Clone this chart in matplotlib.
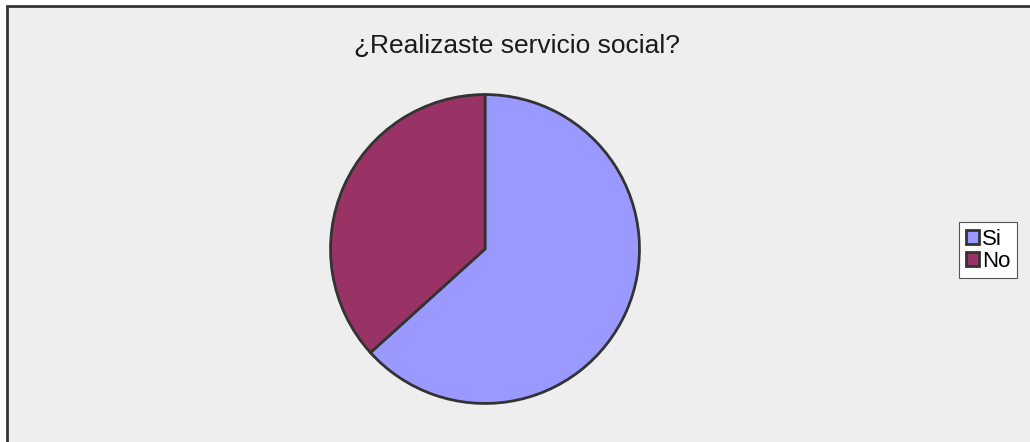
import matplotlib.pyplot as plt
from matplotlib.patches import Rectangle

labels = ["Si", "No"]
values = [63.3, 36.7]
colors = ["#9999FF", "#993366"]

W, H = 1030, 442
plt.rcParams['font.family'] = ['Liberation Sans', 'DejaVu Sans']

fig = plt.figure(figsize=(W / 100, H / 100), dpi=100, facecolor="white")

# chart area background with border on the left/top
bg = Rectangle((7 / W, -0.05), 1.2, 1 - 6 / H + 0.05, transform=fig.transFigure,
               facecolor="#EEEEEE", edgecolor="#333333", linewidth=2, zorder=-5)
fig.patches.append(bg)

cx, cy, r = 485, 249, 156
ax = fig.add_axes([(cx - r) / W, (H - cy - r) / H, 2 * r / W, 2 * r / H])
ax.set_zorder(1)
wedges, _ = ax.pie(values, colors=colors, startangle=90, counterclock=False,
                   radius=1, wedgeprops=dict(edgecolor="#333333", linewidth=2))
ax.set_xlim(-1.01, 1.01)
ax.set_ylim(-1.01, 1.01)
ax.set_aspect("equal")
ax.axis("off")

fig.text(517 / W, 1 - 46 / H, "¿Realizaste servicio social?", ha="center", va="center",
         fontsize=19, color="#1a1a1a")

leg = fig.legend(wedges, labels, loc="upper left", bbox_to_anchor=(959 / W, 1 - 222 / H),
                 bbox_transform=fig.transFigure, borderaxespad=0, fancybox=False,
                 frameon=True, edgecolor="#555555", facecolor="white", framealpha=1,
                 fontsize=16, handlelength=0.6, handleheight=0.6, handletextpad=0.15,
                 labelspacing=0.05, borderpad=0.3)
leg.get_frame().set_linewidth(0.8)
leg.set_zorder(2)

fig.savefig("out.png", dpi=100, facecolor=fig.get_facecolor())
